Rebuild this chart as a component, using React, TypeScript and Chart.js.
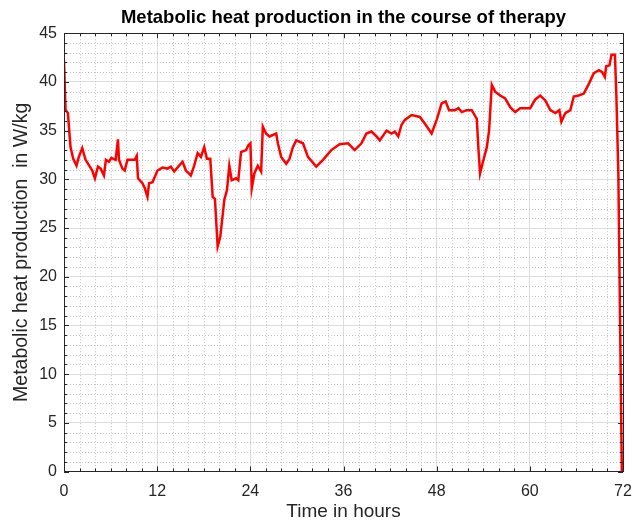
import React, { useEffect, useRef } from "react";
import { Chart, registerables } from "chart.js";

Chart.register(...registerables);

const titleText = "Metabolic heat production in the course of therapy";
const xAxisLabel = "Time in hours";
const yAxisLabel = "Metabolic heat production  in W/kg";

const xTicksMajor = [0, 12, 24, 36, 48, 60, 72];
const yTicksMajor = [0, 5, 10, 15, 20, 25, 30, 35, 40, 45];

const hours = [
  0, 0.2, 0.5, 0.84, 1.19, 1.61, 1.91, 2.35, 2.78, 3.33,
  3.64, 3.98, 4.37, 4.72, 5.14, 5.4, 5.79, 6.1, 6.65, 6.95,
  7.08, 7.52, 7.82, 8.17, 9.11, 9.37, 9.53, 10.1, 10.4, 10.75,
  10.96, 11.4, 12.04, 12.69, 13.33, 13.76, 14.19, 14.83, 15.27, 15.7,
  16.34, 16.77, 17.21, 17.64, 18.06, 18.41, 18.84, 19.15, 19.44, 19.79,
  20.13, 20.65, 20.99, 21.29, 21.6, 22.16, 22.45, 22.8, 23.45, 23.75,
  24.01, 24.19, 24.52, 24.96, 25.39, 25.61, 26.03, 26.46, 27.33, 27.55,
  27.97, 28.62, 29.04, 29.48, 29.91, 30.78, 31.42, 32.49, 33.36, 34.43,
  35.5, 36.59, 37.44, 38.31, 38.95, 39.6, 40.25, 40.67, 41.54, 42.18,
  42.61, 43.05, 43.48, 43.9, 44.77, 45.84, 46.49, 47.35, 48.0, 48.64,
  49.16, 49.59, 50.36, 50.8, 51.23, 51.87, 52.52, 53.17, 53.39, 53.59,
  53.9, 54.46, 54.75, 55.1, 55.53, 56.18, 56.82, 57.47, 58.11, 58.76,
  60.05, 60.7, 61.34, 61.99, 62.64, 63.28, 63.8, 64.06, 64.57, 65.22,
  65.66, 66.3, 66.95, 67.6, 68.24, 68.89, 69.32, 69.66, 69.83, 70.26,
  70.52, 70.96, 71.15, 71.4, 71.85,
];

const heatValues = [
  42.2, 37.1, 36.8, 33.3, 32.1, 31.4, 32.3, 33.2, 32.0, 31.3,
  30.9, 30.1, 31.3, 31.1, 30.4, 32.0, 31.8, 32.2, 32.0, 34.1,
  32.0, 31.1, 30.9, 32.0, 32.0, 32.4, 30.1, 29.6, 29.1, 28.2,
  29.6, 29.7, 30.9, 31.2, 31.1, 31.3, 30.8, 31.4, 31.8, 30.9,
  30.4, 31.4, 32.7, 32.3, 33.3, 32.1, 32.1, 28.2, 28.0, 23.1,
  24.1, 27.9, 28.9, 31.4, 29.9, 30.1, 29.9, 32.8, 33.0, 33.5,
  33.7, 29.1, 30.6, 31.4, 30.8, 35.4, 34.7, 34.4, 34.7, 33.7,
  32.3, 31.6, 32.1, 33.3, 34.0, 33.7, 32.3, 31.3, 32.0, 33.0,
  33.6, 33.7, 33.0, 33.7, 34.7, 34.9, 34.4, 34.0, 35.0, 34.7,
  34.9, 34.4, 35.6, 36.1, 36.6, 36.4, 35.7, 34.7, 36.1, 37.8,
  38.0, 37.1, 37.1, 37.3, 36.9, 37.1, 37.1, 36.2, 33.0, 30.6,
  31.6, 33.3, 35.0, 39.7, 39.0, 38.6, 38.3, 37.4, 36.9, 37.3,
  37.3, 38.2, 38.6, 38.1, 37.1, 36.8, 37.1, 35.9, 36.8, 37.1,
  38.5, 38.6, 38.8, 39.8, 40.9, 41.2, 41.0, 40.5, 41.6, 41.7,
  42.8, 42.8, 38.5, 30.6, 0,
];

const FONT = "'Liberation Sans', Arial, Helvetica, sans-serif";
const AXIS_COLOR = "#262626";

const matlabAxesPlugin = {
  id: "matlabAxes",
  beforeDatasetsDraw(chart: any) {
    const { ctx, chartArea, scales } = chart;
    const xs = scales.x;
    const ys = scales.y;
    ctx.save();
    ctx.strokeStyle = "#c4c4c4";
    ctx.lineWidth = 1;
    ctx.setLineDash([1, 2]);
    for (let v = xs.min; v <= xs.max; v += 2) {
      if (v % 12 === 0) continue;
      const px = Math.round(xs.getPixelForValue(v)) + 0.5;
      ctx.beginPath();
      ctx.moveTo(px, chartArea.top);
      ctx.lineTo(px, chartArea.bottom);
      ctx.stroke();
    }
    for (let v = ys.min; v <= ys.max; v += 1) {
      if (v % 5 === 0) continue;
      const py = Math.round(ys.getPixelForValue(v)) + 0.5;
      ctx.beginPath();
      ctx.moveTo(chartArea.left, py);
      ctx.lineTo(chartArea.right, py);
      ctx.stroke();
    }
    ctx.restore();
  },
  afterDraw(chart: any) {
    const { ctx, chartArea, scales } = chart;
    const xs = scales.x;
    const ys = scales.y;
    const { left, right, top, bottom } = chartArea;
    ctx.save();
    ctx.strokeStyle = AXIS_COLOR;
    ctx.lineWidth = 1;
    ctx.setLineDash([]);
    ctx.beginPath();
    ctx.rect(Math.round(left) + 0.5, Math.round(top) + 0.5, Math.round(right - left), Math.round(bottom - top));
    ctx.stroke();
    for (let v = xs.min; v <= xs.max; v += 2) {
      const len = v % 12 === 0 ? 5 : 3;
      const px = Math.round(xs.getPixelForValue(v)) + 0.5;
      ctx.beginPath();
      ctx.moveTo(px, bottom);
      ctx.lineTo(px, bottom - len);
      ctx.moveTo(px, top);
      ctx.lineTo(px, top + len);
      ctx.stroke();
    }
    for (let v = ys.min; v <= ys.max; v += 1) {
      const len = v % 5 === 0 ? 5 : 3;
      const py = Math.round(ys.getPixelForValue(v)) + 0.5;
      ctx.beginPath();
      ctx.moveTo(left, py);
      ctx.lineTo(left + len, py);
      ctx.moveTo(right, py);
      ctx.lineTo(right - len, py);
      ctx.stroke();
    }
    ctx.restore();
  },
};

export default function App() {
  const canvasRef = useRef<HTMLCanvasElement | null>(null);

  useEffect(() => {
    const canvas = canvasRef.current;
    if (!canvas) return;
    const points = hours.map((h, i) => ({ x: h, y: heatValues[i] }));
    const chart = new Chart(canvas, {
      type: "line",
      data: {
        datasets: [
          {
            data: points,
            borderColor: "#ff0000",
            borderWidth: 2.5,
            pointRadius: 0,
            tension: 0,
            fill: false,
          },
        ],
      },
      options: {
        animation: false,
        responsive: false,
        maintainAspectRatio: false,
        events: [],
        layout: { padding: { left: 0, right: 2, top: 0, bottom: 0 } },
        plugins: {
          legend: { display: false },
          tooltip: { enabled: false },
          title: {
            display: true,
            text: titleText,
            fullSize: false,
            color: "#000000",
            font: { family: FONT, size: 18.5, weight: "bold", lineHeight: 1.2 },
            padding: { top: 7, bottom: 4 },
          },
        },
        scales: {
          x: {
            type: "linear",
            min: 0,
            max: 72,
            afterBuildTicks: (scale: any) => {
              scale.ticks = xTicksMajor.map((v) => ({ value: v }));
            },
            afterFit: (scale: any) => {
              scale.height = 50.5;
              scale.paddingRight = 9;
              scale.paddingLeft = 0;
            },
            ticks: {
              color: AXIS_COLOR,
              font: { family: FONT, size: 16 },
              padding: 10,
              maxRotation: 0,
              autoSkip: false,
            },
            grid: { color: "#dedede", lineWidth: 1, drawTicks: false },
            border: { display: true, color: AXIS_COLOR },
            title: {
              display: true,
              text: xAxisLabel,
              color: AXIS_COLOR,
              font: { family: FONT, size: 19, lineHeight: 1 },
              padding: { top: 0, bottom: 1 },
            },
          },
          y: {
            type: "linear",
            min: 0,
            max: 45,
            afterBuildTicks: (scale: any) => {
              scale.ticks = yTicksMajor.map((v) => ({ value: v }));
            },
            afterFit: (scale: any) => {
              scale.width = 64;
            },
            ticks: {
              color: AXIS_COLOR,
              font: { family: FONT, size: 16 },
              padding: 7,
              autoSkip: false,
            },
            grid: { color: "#dedede", lineWidth: 1, drawTicks: false },
            border: { display: true, color: AXIS_COLOR },
            title: {
              display: true,
              text: yAxisLabel,
              color: AXIS_COLOR,
              font: { family: FONT, size: 19.5, lineHeight: 1 },
              padding: { top: 12, bottom: 0 },
            },
          },
        },
      },
      plugins: [matlabAxesPlugin],
    });
    return () => chart.destroy();
  }, []);

  return (
    <div style={{ position: "fixed", left: 0, top: 0, width: 632, height: 522, background: "#ffffff" }}>
      <canvas ref={canvasRef} width={632} height={522} style={{ display: "block" }} />
    </div>
  );
}
